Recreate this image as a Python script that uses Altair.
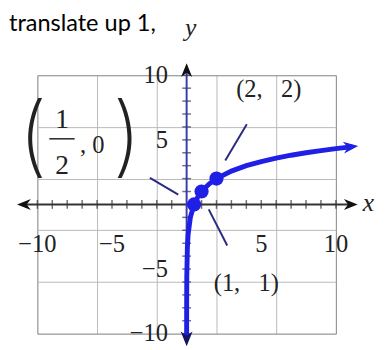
import altair as alt
import pandas as pd

# ---- data ----
curve_x = [0.0003, 0.002, 0.01, 0.05, 0.1, 0.25, 0.5, 0.75, 1, 1.5, 2, 3, 4, 5, 6, 7, 8, 9, 10, 11]
curve_y = [-10.4, -7.97, -5.64, -3.32, -2.32, -1.0, 0.0, 0.58, 1.0, 1.58, 2.0, 2.58, 3.0, 3.32, 3.58, 3.81, 4.0, 4.17, 4.32, 4.46]
point_x = [0.5, 1, 2]
point_y = [0, 1, 2]
grid_values = list(range(-10, 11))
tick_values = [-10, -5, 5, 10]
tick_labels = ["\u221210", "\u22125", "5", "10"]
title_text = "translate up 1,"
x_axis_ends = [-10.9, 11.0]
y_axis_ends = [-10.4, 10.4]

# annotations (label anchors in data units)
lab_text = ["(2,\u2002 2)", "(1,\u2002 1)", ", 0"]
lab_x = [5.5, 4.0, -6.33]
lab_y = [8.9, -6.06, 4.55]
frac_text = ["1", "2"]
frac_x = [-8.35, -8.35]
frac_y = [6.5, 3.0]
paren_text = ["(", ")"]
paren_x = [-10.3, -4.0]
paren_y = [5.0, 5.0]
leader_x1 = [4.03, 1.48, -2.46]
leader_y1 = [6.2, -0.38, 2.05]
leader_x2 = [2.59, 2.72, -0.56]
leader_y2 = [3.4, -3.18, 0.76]
bar_x1 = [-9.2]
bar_x2 = [-7.5]
bar_y = [5.08]

BLUE = "#1f1fe6"
SERIF = "Liberation Serif"
ARROW = "M-1,-0.8L1,0L-1,0.8L-0.4,0Z"

xs = alt.Scale(domain=[-10, 10], nice=False, zero=False)
ys = alt.Scale(domain=[-10, 10], nice=False, zero=False)

grid_color = {"condition": {"test": "datum.value % 5 === 0", "value": "#8a8a8a"}, "value": "#b8b8b8"}
ax = dict(values=grid_values, grid=True, labels=False, ticks=False, domain=False,
          title=None, gridColor=grid_color, gridWidth=1)

curve_df = pd.DataFrame({"x": curve_x, "y": curve_y, "o": list(range(len(curve_x)))})
pts_df = pd.DataFrame({"x": point_x, "y": point_y})

grid_layer = alt.Chart(curve_df).mark_line(opacity=0).encode(
    x=alt.X("x:Q", scale=xs, axis=alt.Axis(**ax)),
    y=alt.Y("y:Q", scale=ys, axis=alt.Axis(**ax)),
    order="o:Q",
)

xaxis_df = pd.DataFrame({"x": [x_axis_ends[0]], "x2": [x_axis_ends[1]], "y": [0]})
xaxis = alt.Chart(xaxis_df).mark_rule(color="#333333", strokeWidth=2).encode(
    x=alt.X("x:Q", scale=xs), x2="x2:Q", y=alt.Y("y:Q", scale=ys))

yaxis_df = pd.DataFrame({"x": [0], "y": [y_axis_ends[0]], "y2": [y_axis_ends[1]]})
yaxis = alt.Chart(yaxis_df).mark_rule(color="#3b3bb0", strokeWidth=2).encode(
    x=alt.X("x:Q", scale=xs), y=alt.Y("y:Q", scale=ys), y2="y2:Q")

nz = [v for v in grid_values if v != 0]
xt_df = pd.DataFrame({"x": nz, "y": [0] * len(nz)})
xticks = alt.Chart(xt_df).mark_tick(orient="vertical", size=9, thickness=1.5, color="#333333").encode(
    x=alt.X("x:Q", scale=xs), y=alt.Y("y:Q", scale=ys))
yt_df = pd.DataFrame({"x": [0] * len(nz), "y": nz})
yticks = alt.Chart(yt_df).mark_tick(orient="horizontal", size=9, thickness=1.5, color="#333366").encode(
    x=alt.X("x:Q", scale=xs), y=alt.Y("y:Q", scale=ys))

xl_df = pd.DataFrame({"x": tick_values, "y": [0] * 4, "t": tick_labels})
xlabels = alt.Chart(xl_df).mark_text(font=SERIF, fontSize=25, dy=41, color="#222222").encode(
    x=alt.X("x:Q", scale=xs), y=alt.Y("y:Q", scale=ys), text="t:N")
yl_df = pd.DataFrame({"x": [0] * 4, "y": tick_values, "t": tick_labels})
ylabels = alt.Chart(yl_df).mark_text(font=SERIF, fontSize=25, align="right", dx=-19, color="#222222").encode(
    x=alt.X("x:Q", scale=xs), y=alt.Y("y:Q", scale=ys), text="t:N")

ld_df = pd.DataFrame({"x": leader_x1, "y": leader_y1, "x2": leader_x2, "y2": leader_y2})
leaders = alt.Chart(ld_df).mark_rule(color="#2a2a80", strokeWidth=2).encode(
    x=alt.X("x:Q", scale=xs), y=alt.Y("y:Q", scale=ys), x2="x2:Q", y2="y2:Q")
bar_df = pd.DataFrame({"x": bar_x1, "x2": bar_x2, "y": bar_y})
fbar = alt.Chart(bar_df).mark_rule(color="#222222", strokeWidth=1.5).encode(
    x=alt.X("x:Q", scale=xs), x2="x2:Q", y=alt.Y("y:Q", scale=ys))

curve = alt.Chart(curve_df).mark_line(color=BLUE, strokeWidth=5, strokeCap="round").encode(
    x=alt.X("x:Q", scale=xs), y=alt.Y("y:Q", scale=ys), order="o:Q")

points = alt.Chart(pts_df).mark_circle(color=BLUE, size=210, opacity=1).encode(
    x=alt.X("x:Q", scale=xs), y=alt.Y("y:Q", scale=ys))

end_r = pd.DataFrame({"x": [curve_x[-1]], "y": [curve_y[-1]]})
end_b = pd.DataFrame({"x": [curve_x[0]], "y": [curve_y[0]]})
arr_r = alt.Chart(end_r).mark_point(shape=ARROW, size=230, filled=True, color=BLUE, opacity=1, angle=353.5).encode(
    x=alt.X("x:Q", scale=xs), y=alt.Y("y:Q", scale=ys))
arr_b = alt.Chart(end_b).mark_point(shape=ARROW, size=230, filled=True, color="#151560", opacity=1, angle=90).encode(
    x=alt.X("x:Q", scale=xs), y=alt.Y("y:Q", scale=ys))

xa_l = pd.DataFrame({"x": [x_axis_ends[0]], "y": [0]})
xa_r = pd.DataFrame({"x": [x_axis_ends[1]], "y": [0]})
ya_t = pd.DataFrame({"x": [0], "y": [y_axis_ends[1]]})
arr_xl = alt.Chart(xa_l).mark_point(shape=ARROW, size=200, filled=True, color="#111111", opacity=1, angle=180).encode(
    x=alt.X("x:Q", scale=xs), y=alt.Y("y:Q", scale=ys))
arr_xr = alt.Chart(xa_r).mark_point(shape=ARROW, size=200, filled=True, color="#111111", opacity=1, angle=0).encode(
    x=alt.X("x:Q", scale=xs), y=alt.Y("y:Q", scale=ys))
arr_yt = alt.Chart(ya_t).mark_point(shape=ARROW, size=200, filled=True, color="#111111", opacity=1, angle=270).encode(
    x=alt.X("x:Q", scale=xs), y=alt.Y("y:Q", scale=ys))

xname = alt.Chart(xa_r).mark_text(text="x", font=SERIF, fontSize=26, fontStyle="italic", dx=18, dy=-1, color="#222222").encode(
    x=alt.X("x:Q", scale=xs), y=alt.Y("y:Q", scale=ys))
yname = alt.Chart(ya_t).mark_text(text="y", font=SERIF, fontSize=26, fontStyle="italic", dx=4, dy=-43, color="#222222").encode(
    x=alt.X("x:Q", scale=xs), y=alt.Y("y:Q", scale=ys))

lab_df = pd.DataFrame({"x": lab_x, "y": lab_y, "t": lab_text})
labels = alt.Chart(lab_df).mark_text(font=SERIF, fontSize=25, color="#222222").encode(
    x=alt.X("x:Q", scale=xs), y=alt.Y("y:Q", scale=ys), text="t:N")
frac_df = pd.DataFrame({"x": frac_x, "y": frac_y, "t": frac_text})
fracs = alt.Chart(frac_df).mark_text(font=SERIF, fontSize=28, color="#222222").encode(
    x=alt.X("x:Q", scale=xs), y=alt.Y("y:Q", scale=ys), text="t:N")
par_df = pd.DataFrame({"x": paren_x, "y": paren_y, "t": paren_text})
parens = alt.Chart(par_df).mark_text(font="Inter", fontWeight=200, fontSize=90, color="#222222").encode(
    x=alt.X("x:Q", scale=xs), y=alt.Y("y:Q", scale=ys), text="t:N")

chart = alt.layer(
    grid_layer, xaxis, yaxis, xticks, yticks, xlabels, ylabels, leaders, fbar,
    curve, points, arr_r, arr_b, arr_xl, arr_xr, arr_yt, xname, yname, labels, fracs, parens,
).properties(
    width=305, height=264,
    autosize=alt.AutoSizeParams(type="none"),
    padding={"left": 30, "top": 65, "right": 42, "bottom": 13},
    title=alt.TitleParams(title_text, anchor="start", frame="group", dx=-29, offset=-40,
                          baseline="alphabetic", font="Lato", fontSize=24,
                          fontWeight="normal", color="black"),
).configure_view(stroke=None).configure(background="white")

chart.save("out.html", embed_options={"renderer": "svg", "actions": False})
